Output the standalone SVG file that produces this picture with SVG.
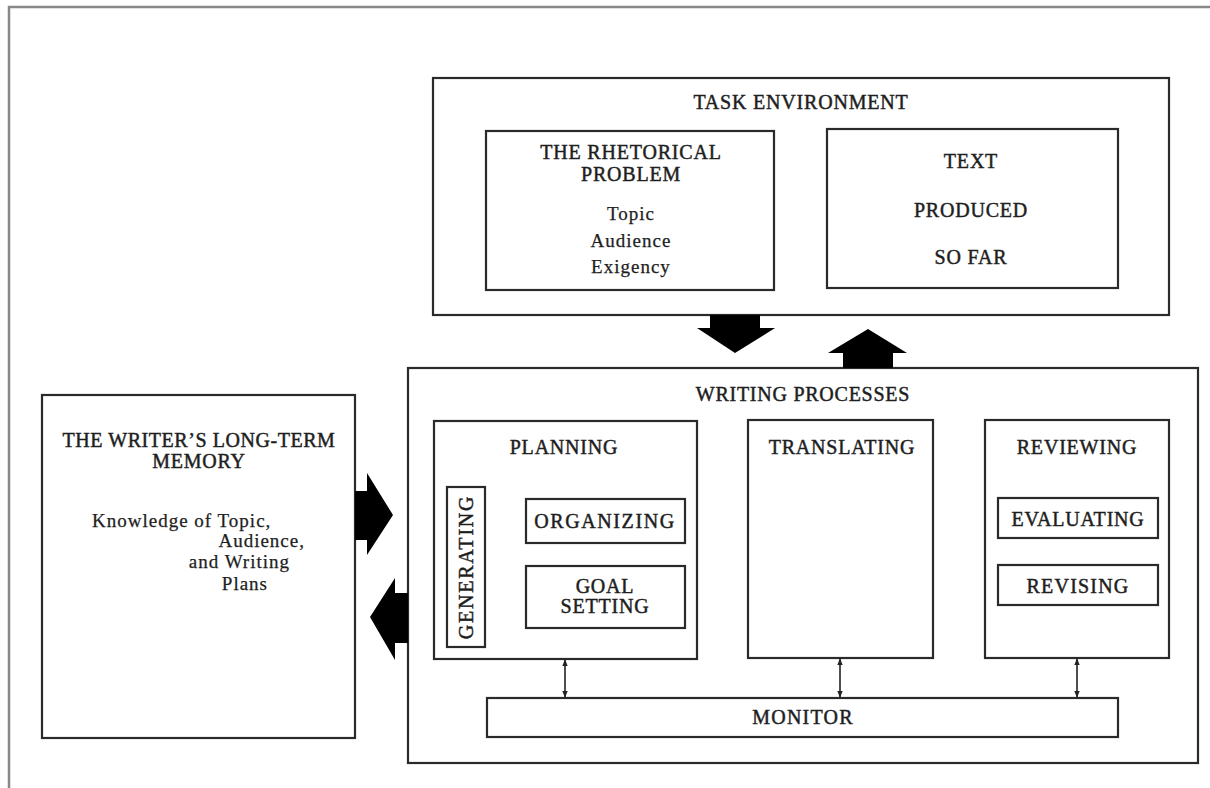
<svg xmlns="http://www.w3.org/2000/svg" width="1210" height="788" viewBox="0 0 1210 788">
<defs>
<style>
.box{fill:none;stroke:#2a2a2a;stroke-width:2.2}
.cap{font-family:"Liberation Serif",serif;font-size:20px;letter-spacing:0.8px;fill:#1e1e1e;stroke:#1e1e1e;stroke-width:0.45px;text-anchor:middle}
.low{font-family:"Liberation Serif",serif;font-size:19px;letter-spacing:1px;fill:#1e1e1e;stroke:#1e1e1e;stroke-width:0.25px;text-anchor:middle}
.big{fill:#000}
.thin{stroke:#222;stroke-width:1.6;fill:none;marker-start:url(#ah);marker-end:url(#ah)}
</style>
<marker id="ah" viewBox="0 0 10 10" refX="9" refY="5" markerWidth="7" markerHeight="7" markerUnits="userSpaceOnUse" orient="auto-start-reverse">
<path d="M0,1 L10,5 L0,9 Z" fill="#222"/>
</marker>
</defs>
<rect width="1210" height="788" fill="#fff"/>
<path d="M9,790 L9,7 L1215,7" fill="none" stroke="#888" stroke-width="2.5"/>

<g id="task-environment">
<rect class="box" x="433" y="78" width="736" height="237"/>
<text class="cap" x="801" y="109">TASK ENVIRONMENT</text>
</g>
<g id="rhetorical-problem">
<rect class="box" x="486" y="131" width="288" height="159"/>
<text class="cap" x="631" y="159">THE RHETORICAL</text>
<text class="cap" x="631" y="181">PROBLEM</text>
<text class="low" x="631" y="220">Topic</text>
<text class="low" x="631" y="247">Audience</text>
<text class="low" x="631" y="273">Exigency</text>
</g>
<g id="text-produced">
<rect class="box" x="827" y="129" width="291" height="159"/>
<text class="cap" x="971" y="168">TEXT</text>
<text class="cap" x="971" y="217">PRODUCED</text>
<text class="cap" x="971" y="264">SO FAR</text>
</g>
<g id="long-term-memory">
<rect class="box" x="42" y="395" width="313" height="343"/>
<text class="cap" x="199" y="447" style="letter-spacing:0.55px">THE WRITER’S LONG-TERM</text>
<text class="cap" x="199" y="468">MEMORY</text>
<text class="low" x="92" y="527" style="text-anchor:start">Knowledge of Topic,</text>
<text class="low" x="305" y="547" style="text-anchor:end">Audience,</text>
<text class="low" x="290" y="568" style="text-anchor:end">and Writing</text>
<text class="low" x="268" y="590" style="text-anchor:end">Plans</text>
</g>
<g id="writing-processes">
<rect class="box" x="408" y="368" width="790" height="395"/>
<text class="cap" x="803" y="401" style="letter-spacing:0.75px">WRITING PROCESSES</text>
</g>
<g id="planning">
<rect class="box" x="434" y="421" width="263" height="238"/>
<text class="cap" x="564" y="454">PLANNING</text>
</g>
<g id="generating">
<rect class="box" x="447" y="487" width="38" height="160"/>
<text class="cap" transform="translate(473,567) rotate(-90)" x="0" y="0" style="letter-spacing:1.8px">GENERATING</text>
</g>
<g id="organizing">
<rect class="box" x="526" y="499" width="159" height="44"/>
<text class="cap" x="605" y="528" style="letter-spacing:1.6px">ORGANIZING</text>
</g>
<g id="goal-setting">
<rect class="box" x="526" y="566" width="159" height="62"/>
<text class="cap" x="605" y="593">GOAL</text>
<text class="cap" x="605" y="613">SETTING</text>
</g>
<g id="translating">
<rect class="box" x="748" y="420" width="185" height="238"/>
<text class="cap" x="842" y="454">TRANSLATING</text>
</g>
<g id="reviewing">
<rect class="box" x="985" y="420" width="184" height="238"/>
<text class="cap" x="1077" y="454">REVIEWING</text>
</g>
<g id="evaluating">
<rect class="box" x="998" y="498" width="160" height="40"/>
<text class="cap" x="1078" y="526">EVALUATING</text>
</g>
<g id="revising">
<rect class="box" x="998" y="565" width="160" height="40"/>
<text class="cap" x="1078" y="593" style="letter-spacing:1.2px">REVISING</text>
</g>
<g id="monitor">
<rect class="box" x="487" y="698" width="631" height="39"/>
<text class="cap" x="803" y="724" style="letter-spacing:1.2px">MONITOR</text>
</g>

<g id="connectors">
<polygon class="big" points="710,315 760,315 760,328 775,328 735,353 697,328 710,328"/>
<polygon class="big" points="843,368 893,368 893,353 907,353 868,329 828,353 843,353"/>
<polygon class="big" points="355,491 367,491 367,473 393,515 367,555 367,540 355,540"/>
<polygon class="big" points="408,593 395,593 395,578 370,617 395,660 395,643 408,643"/>
<line class="thin" x1="565" y1="660" x2="565" y2="697"/>
<line class="thin" x1="840" y1="659" x2="840" y2="697"/>
<line class="thin" x1="1077" y1="659" x2="1077" y2="697"/>
</g>
</svg>
